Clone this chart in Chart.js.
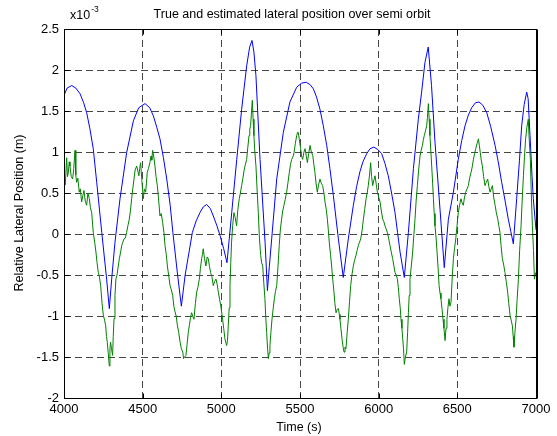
<!DOCTYPE html>
<html>
<head>
<meta charset="utf-8">
<script src="https://cdn.jsdelivr.net/npm/chart.js@4.4.0/dist/chart.umd.min.js"></script>
<style>
  html, body { margin: 0; padding: 0; background: #fff; }
  #c { display: block; }
</style>
</head>
<body>
<canvas id="c" width="557" height="436"></canvas>
<script>
// ---- Text ----
const titleText = "True and estimated lateral position over semi orbit";
const xLabel = "Time (s)";
const yLabel = "Relative Lateral Position (m)";
const expBase = "x10";
const expPow = "-3";

// ---- Ticks ----
const xTicks = [4000, 4500, 5000, 5500, 6000, 6500, 7000];
const yTicks = [-2, -1.5, -1, -0.5, 0, 0.5, 1, 1.5, 2, 2.5];

// ---- True lateral position (blue), units of 1e-3 m ----
const trueTime = [4000,4020,4049,4075,4102,4125,4144,4165,4186,4208,4240,4271,4288,4303,4324,4356,4398,4441,4475,4515,4545,4568,4590,4610,4632,4653,4675,4692,4722,4746,4770,4816,4840,4864,4885,4907,4930,4949,4972,4992,5015,5036,5066,5098,5129,5161,5180,5195,5207,5220,5246,5278,5293,5305,5320,5352,5394,5436,5479,5510,5540,5565,5585,5605,5627,5648,5670,5690,5712,5744,5775,5807,5839,5860,5881,5900,5924,5945,5970,5995,6019,6040,6061,6082,6104,6120,6136,6163,6189,6221,6252,6273,6294,6315,6336,6358,6390,6417,6443,6475,6506,6528,6549,6570,6591,6615,6638,6662,6687,6712,6740,6760,6782,6804,6824,6840,6856,6877,6895,6909,6925,6941,6950,6962,6975,6983,7000];
const trueLat = [1.69,1.78,1.81,1.78,1.71,1.60,1.48,1.28,1.04,0.63,0.02,-0.55,-0.91,-0.55,-0.10,0.43,0.99,1.38,1.54,1.59,1.54,1.44,1.30,1.16,0.93,0.67,0.35,0.02,-0.50,-0.88,-0.50,0.02,0.16,0.26,0.33,0.36,0.31,0.22,0.10,-0.02,-0.18,-0.35,0.26,0.91,1.52,2.05,2.28,2.36,2.22,1.93,0.91,-0.10,-0.69,-0.40,-0.06,0.67,1.24,1.61,1.79,1.84,1.85,1.82,1.77,1.67,1.52,1.32,1.08,0.80,0.47,-0.06,-0.53,-0.06,0.35,0.58,0.76,0.88,0.98,1.04,1.06,1.03,0.98,0.86,0.71,0.50,0.26,0.02,-0.22,-0.53,0.02,0.80,1.40,1.73,2.09,2.28,1.81,1.12,0.30,-0.41,0.18,0.51,0.91,1.14,1.32,1.45,1.54,1.60,1.61,1.57,1.48,1.31,1.08,0.88,0.63,0.40,0.18,0.03,-0.12,0.43,0.90,1.32,1.58,1.73,1.65,1.20,0.70,0.43,0.05];

// ---- Estimated lateral position (green), units of 1e-3 m ----
const estTime = [4000,4008,4017,4022,4028,4033,4038,4046,4055,4062,4070,4075,4080,4088,4097,4104,4112,4120,4127,4135,4144,4152,4161,4168,4176,4186,4195,4203,4210,4218,4225,4233,4242,4250,4258,4265,4270,4275,4281,4288,4292,4296,4302,4309,4313,4318,4324,4330,4337,4345,4352,4360,4367,4374,4381,4390,4398,4406,4415,4422,4430,4437,4445,4452,4462,4468,4476,4481,4487,4495,4504,4511,4519,4524,4529,4537,4546,4553,4558,4563,4570,4578,4585,4593,4600,4610,4618,4627,4635,4642,4650,4657,4665,4674,4682,4691,4698,4706,4713,4721,4729,4738,4746,4755,4760,4766,4775,4782,4790,4798,4804,4811,4818,4826,4835,4843,4851,4860,4867,4875,4880,4885,4893,4902,4910,4917,4925,4932,4940,4949,4957,4966,4974,4981,4989,4996,5002,5008,5015,5023,5028,5034,5039,5044,5050,5055,5060,5065,5072,5080,5088,5097,5105,5114,5121,5129,5137,5146,5153,5161,5168,5176,5181,5186,5192,5197,5202,5207,5213,5220,5227,5235,5242,5250,5256,5263,5270,5277,5282,5288,5294,5299,5304,5309,5315,5322,5330,5337,5344,5352,5360,5368,5375,5383,5390,5398,5406,5415,5423,5432,5440,5447,5455,5462,5470,5479,5485,5489,5496,5504,5510,5517,5525,5532,5540,5547,5555,5564,5572,5581,5588,5595,5602,5610,5618,5627,5635,5644,5652,5659,5667,5674,5680,5686,5694,5701,5708,5716,5722,5729,5736,5744,5750,5754,5760,5767,5774,5780,5786,5792,5800,5807,5815,5822,5830,5839,5847,5856,5863,5871,5878,5886,5895,5903,5911,5920,5927,5934,5942,5949,5955,5962,5970,5977,5985,5992,6000,6009,6017,6026,6033,6040,6048,6055,6063,6072,6080,6089,6096,6104,6111,6119,6125,6131,6137,6142,6148,6153,6158,6163,6170,6178,6184,6189,6194,6199,6208,6216,6224,6231,6238,6246,6254,6263,6270,6278,6284,6290,6298,6305,6310,6316,6321,6326,6332,6337,6343,6348,6353,6358,6365,6371,6378,6384,6390,6396,6403,6409,6415,6422,6428,6434,6440,6447,6453,6460,6467,6475,6482,6490,6498,6506,6514,6523,6530,6538,6545,6553,6562,6570,6578,6587,6595,6602,6610,6617,6625,6634,6640,6646,6652,6659,6667,6676,6684,6693,6700,6708,6715,6723,6731,6740,6748,6757,6764,6771,6778,6786,6795,6803,6811,6820,6827,6835,6842,6850,6855,6860,6866,6873,6880,6888,6896,6905,6912,6920,6927,6934,6942,6951,6957,6964,6970,6977,6984,6990,6998];
const estLat = [0.67,0.60,0.93,0.70,0.75,0.88,0.83,0.70,0.67,0.80,1.02,0.72,0.63,0.68,0.51,0.55,0.39,0.47,0.53,0.40,0.35,0.50,0.43,0.32,0.26,0.02,-0.10,-0.22,-0.35,-0.47,-0.52,-0.63,-0.85,-0.99,-1.05,-1.12,-1.25,-1.32,-1.45,-1.61,-1.40,-1.32,-1.40,-1.48,-1.25,-1.03,-0.75,-0.55,-0.50,-0.39,-0.30,-0.22,-0.14,-0.10,-0.06,-0.05,0.02,0.10,0.18,0.28,0.43,0.55,0.67,0.78,0.83,0.78,0.71,0.80,0.87,0.65,0.43,0.55,0.51,0.62,0.75,0.80,0.87,0.95,0.90,1.02,0.95,0.83,0.70,0.59,0.45,0.22,0.25,0.14,0.02,-0.14,-0.25,-0.39,-0.50,-0.63,-0.68,-0.75,-0.88,-0.95,-1.00,-1.12,-1.20,-1.32,-1.40,-1.44,-1.52,-1.50,-1.48,-1.35,-1.20,-1.10,-1.02,-0.96,-1.00,-1.04,-0.85,-0.71,-0.65,-0.55,-0.42,-0.30,-0.25,-0.18,-0.30,-0.39,-0.28,-0.30,-0.40,-0.47,-0.52,-0.63,-0.58,-0.55,-0.62,-0.71,-0.80,-0.87,-0.95,-1.04,-1.15,-1.28,-1.32,-1.36,-1.30,-1.12,-0.90,-0.63,-0.35,-0.10,0.10,0.26,0.20,0.10,0.30,0.43,0.50,0.59,0.68,0.79,0.85,0.91,1.05,1.20,1.28,1.32,1.50,1.63,1.40,1.20,1.00,0.83,0.55,0.26,-0.05,-0.26,-0.35,-0.39,-0.60,-0.79,-1.00,-1.20,-1.40,-1.52,-1.45,-1.36,-1.20,-1.04,-0.90,-0.79,-0.70,-0.63,-0.40,-0.14,0.05,0.18,0.28,0.35,0.42,0.51,0.62,0.75,0.85,0.91,0.94,0.99,1.10,1.20,1.24,1.24,1.15,1.04,0.95,0.91,1.00,1.04,0.95,0.87,0.98,1.08,1.00,0.96,0.85,0.75,0.62,0.51,0.60,0.67,0.62,0.59,0.50,0.39,0.30,0.18,0.05,-0.10,-0.25,-0.39,-0.55,-0.71,-0.85,-0.96,-0.92,-0.91,-0.98,-1.04,-1.15,-1.28,-1.38,-1.44,-1.38,-1.40,-1.20,-1.04,-0.82,-0.63,-0.50,-0.39,-0.32,-0.26,-0.20,-0.14,-0.10,-0.06,0.05,0.18,0.30,0.43,0.50,0.59,0.72,0.87,0.70,0.59,0.66,0.71,0.60,0.51,0.45,0.39,0.28,0.18,0.15,0.10,0.06,0.02,-0.05,-0.14,-0.22,-0.30,-0.38,-0.47,-0.50,-0.55,-0.65,-0.79,-0.90,-1.04,-1.15,-1.28,-1.40,-1.59,-1.50,-1.44,-1.20,-0.96,-0.75,-0.55,-0.38,-0.22,0.00,0.18,0.40,0.59,0.78,0.95,1.02,1.08,1.15,1.20,1.26,1.32,1.42,1.59,1.40,1.20,1.00,0.83,0.62,0.43,0.25,0.10,-0.05,-0.22,-0.42,-0.63,-0.72,-0.79,-0.92,-1.04,-1.15,-1.30,-1.15,-1.04,-0.90,-0.79,-0.88,-0.83,-0.55,-0.30,-0.18,-0.06,0.10,0.26,0.35,0.43,0.38,0.35,0.44,0.51,0.55,0.59,0.68,0.75,0.82,0.91,0.98,1.04,1.10,1.16,1.08,0.99,0.90,0.83,0.70,0.59,0.63,0.67,0.58,0.51,0.55,0.59,0.45,0.35,0.26,0.18,0.10,0.02,-0.14,-0.30,-0.38,-0.47,-0.58,-0.71,-0.85,-0.99,-1.05,-1.12,-1.25,-1.38,-1.20,-1.04,-0.80,-0.55,-0.20,0.10,0.40,0.71,0.95,1.16,1.30,1.40,1.15,0.91,0.50,0.10,-0.20,-0.55,-0.47];

const FONT = '"Liberation Sans", Arial, Helvetica, sans-serif';
Chart.defaults.font.family = FONT;
Chart.defaults.color = '#000';

const toXY = (xs, ys) => xs.map((x, i) => ({ x: x, y: ys[i] }));

const framePlugin = {
  id: 'framePlugin',
  afterDraw(chart) {
    const ctx = chart.ctx;
    const a = chart.chartArea;
    const xs = chart.scales.x, ys = chart.scales.y;
    ctx.save();
    ctx.strokeStyle = '#000';
    ctx.lineWidth = 1;
    const L = Math.round(a.left) + 0.5, R = Math.round(a.right) + 0.5;
    const T = Math.round(a.top) + 0.5, B = Math.round(a.bottom) + 0.5;
    ctx.strokeRect(L, T, R - L, B - T);
    ctx.beginPath();
    ctx.moveTo(R + 1, T); ctx.lineTo(R + 1, B);
    xTicks.forEach(v => {
      const px = Math.round(xs.getPixelForValue(v)) + 0.5;
      ctx.moveTo(px, B); ctx.lineTo(px, B - 5);
      ctx.moveTo(px, T); ctx.lineTo(px, T + 5);
    });
    yTicks.forEach(v => {
      const py = Math.round(ys.getPixelForValue(v)) + 0.5;
      ctx.moveTo(L, py); ctx.lineTo(L + 5, py);
      ctx.moveTo(R, py); ctx.lineTo(R - 5, py);
    });
    ctx.stroke();

    ctx.fillStyle = '#000';
    ctx.textBaseline = 'middle';
    ctx.textAlign = 'center';
    ctx.font = '12.5px ' + FONT;
    ctx.fillText(titleText, 292, 15);
    ctx.fillText(xLabel, 299, 428);
    ctx.save();
    ctx.translate(20, 213);
    ctx.rotate(-Math.PI / 2);
    ctx.fillText(yLabel, 0, 0);
    ctx.restore();
    ctx.textAlign = 'left';
    ctx.font = '12.5px ' + FONT;
    ctx.fillText(expBase, 70, 16);
    const w = ctx.measureText(expBase).width;
    ctx.font = '8.5px ' + FONT;
    ctx.fillText(expPow, 70 + w + 1, 10);
    ctx.restore();
  }
};

new Chart(document.getElementById('c'), {
  type: 'line',
  data: {
    datasets: [
      {
        label: 'Estimated',
        data: toXY(estTime, estLat),
        borderColor: '#008000',
        borderWidth: 1,
        pointRadius: 0,
        tension: 0,
        fill: false
      },
      {
        label: 'True',
        data: toXY(trueTime, trueLat),
        borderColor: '#0000ff',
        borderWidth: 1,
        pointRadius: 0,
        tension: 0,
        fill: false
      }
    ]
  },
  options: {
    responsive: false,
    animation: false,
    events: [],
    layout: { padding: { left: 0, right: 21, top: 29, bottom: 0 } },
    plugins: { legend: { display: false }, title: { display: false }, tooltip: { enabled: false } },
    scales: {
      x: {
        type: 'linear',
        min: 4000, max: 7000,
        afterBuildTicks: s => { s.ticks = xTicks.map(v => ({ value: v })); },
        afterFit: s => { s.height = 38; },
        ticks: { padding: 4, font: { size: 13 }, color: '#000', maxRotation: 0, callback: v => String(v) },
        grid: { color: 'rgba(0,0,0,0.72)', lineWidth: 1, drawTicks: false },
        border: { display: false, dash: [7, 4] }
      },
      y: {
        type: 'linear',
        min: -2, max: 2.5,
        afterBuildTicks: s => { s.ticks = yTicks.map(v => ({ value: v })); },
        afterFit: s => { s.width = 64; },
        ticks: { padding: 5, font: { size: 13 }, color: '#000', callback: v => String(v) },
        grid: { color: 'rgba(0,0,0,0.72)', lineWidth: 1, drawTicks: false },
        border: { display: false, dash: [7, 4] }
      }
    }
  },
  plugins: [framePlugin]
});
</script>
</body>
</html>
